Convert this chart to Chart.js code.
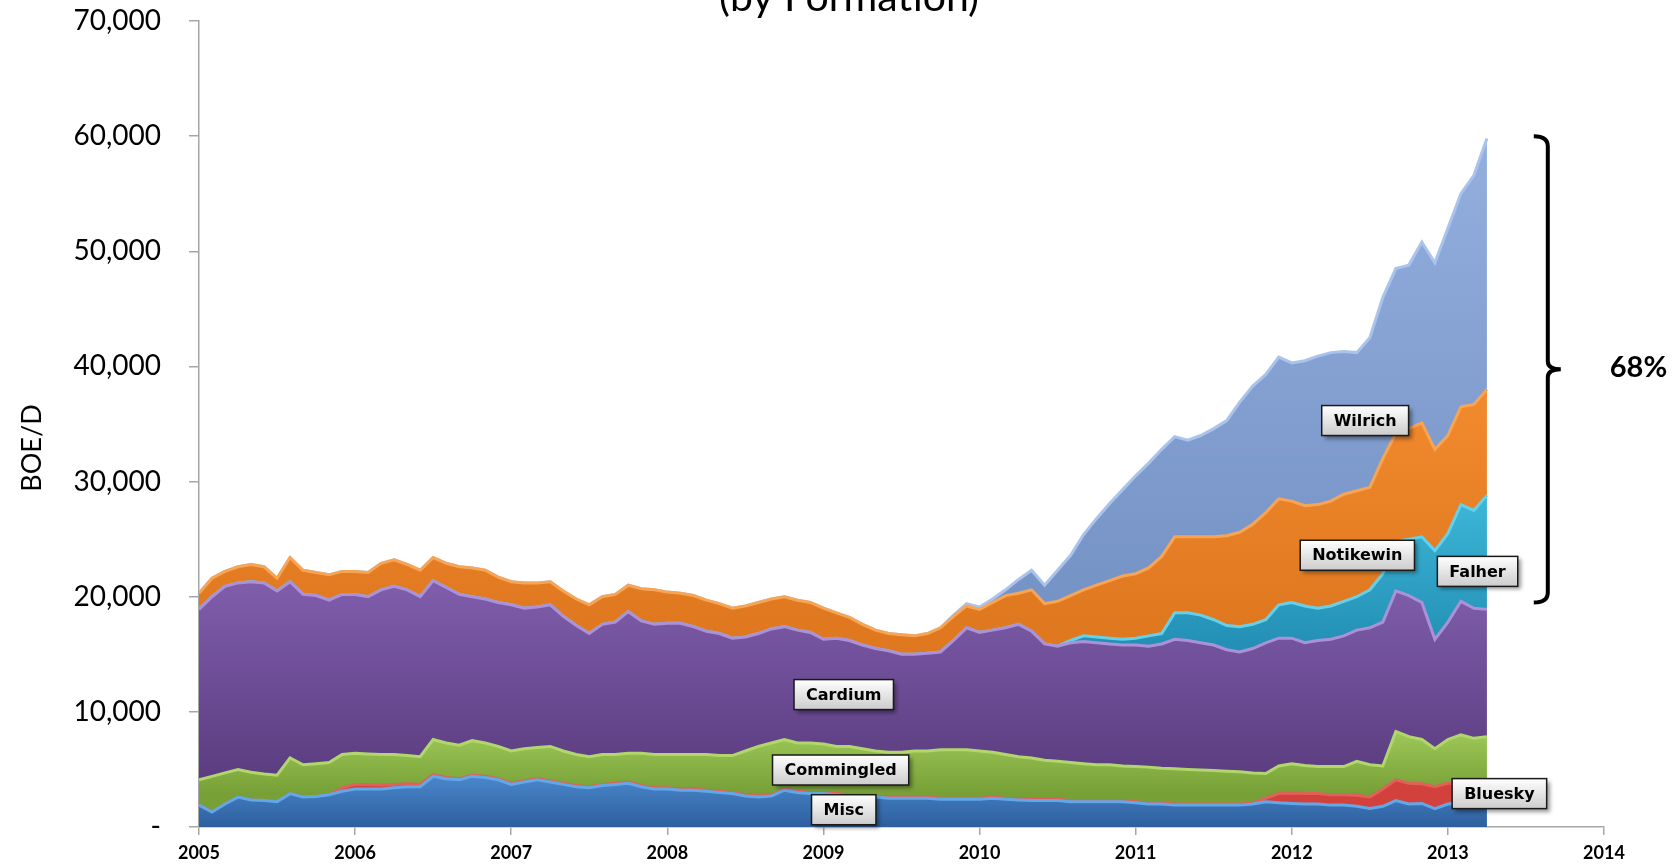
<!DOCTYPE html>
<html>
<head>
<meta charset="utf-8">
<title>Production by Formation</title>
<script src="https://cdn.jsdelivr.net/npm/chart.js@4.4.1/dist/chart.umd.min.js"></script>
<style>
  html, body { margin: 0; padding: 0; background: #fff; }
  #wrap { width: 1680px; height: 867px; position: relative; }
</style>
</head>
<body>
<div id="wrap"><canvas id="chart"></canvas></div>
<script>
// Monthly production by formation, Jan 2005 - Apr 2013 (BOE/D)
const startYear = 2005;
const yearTicks = [2005, 2006, 2007, 2008, 2009, 2010, 2011, 2012, 2013, 2014];
const valueTicks = [0, 10000, 20000, 30000, 40000, 50000, 60000, 70000];

const misc = [
  1900, 1300, 2000, 2600, 2350, 2300, 2200, 2900, 2600, 2650, 2800, 3100,
  3300, 3300, 3300, 3400, 3500, 3500, 4400, 4200, 4100, 4400, 4300, 4100,
  3700, 3900, 4100, 3900, 3700, 3500, 3400, 3600, 3700, 3800, 3500, 3300,
  3300, 3200, 3200, 3100, 3000, 2900, 2700, 2600, 2700, 3200, 3000, 2900,
  2900, 2800, 2700, 2600, 2600, 2500, 2500, 2500, 2500, 2400, 2400, 2400,
  2400, 2500, 2400, 2350, 2300, 2300, 2300, 2200, 2200, 2200, 2200, 2200,
  2100, 2000, 2000, 1900, 1900, 1900, 1900, 1900, 1900, 2000, 2200, 2100,
  2050, 2000, 2000, 1900, 1900, 1800, 1600, 1800, 2300, 2000, 2050, 1600,
  2000, 2100, 2000, 2200
];

const bluesky = [
  0, 0, 0, 0, 0, 0, 0, 0, 0, 0, 0, 300,
  400, 400, 350, 300, 250, 200, 150, 100, 100, 100, 100, 100,
  100, 100, 100, 100, 100, 100, 100, 100, 100, 100, 100, 100,
  100, 100, 100, 100, 100, 100, 100, 100, 100, 100, 100, 100,
  100, 100, 100, 100, 100, 100, 100, 100, 100, 100, 100, 100,
  100, 100, 100, 100, 100, 100, 100, 100, 100, 100, 100, 100,
  100, 100, 100, 100, 100, 100, 100, 100, 100, 100, 300, 800,
  900, 900, 900, 900, 900, 950, 1000, 1500, 1800, 1800, 1700, 1900,
  1800, 1700, 1600, 1600
];

const commingled = [
  2200, 3100, 2700, 2400, 2400, 2300, 2300, 3100, 2800, 2850, 2800, 2900,
  2700, 2650, 2650, 2600, 2450, 2400, 3050, 3000, 2900, 3000, 2900, 2800,
  2800, 2800, 2700, 3000, 2800, 2700, 2600, 2600, 2500, 2500, 2800, 2900,
  2900, 3000, 3000, 3100, 3100, 3200, 3800, 4300, 4500, 4300, 4200, 4300,
  4200, 4100, 4200, 4100, 3900, 3900, 3900, 4000, 4000, 4200, 4200, 4200,
  4100, 3900, 3800, 3650, 3600, 3400, 3300, 3300, 3200, 3100, 3100, 3000,
  3050, 3100, 3000, 3050, 3000, 2950, 2900, 2850, 2800, 2600, 2150, 2400,
  2550, 2450, 2350, 2450, 2450, 2950, 2800, 2000, 4200, 4050, 3850, 3300,
  3800, 4200, 4100, 4050
];

const cardium = [
  14800, 15600, 16200, 16200, 16550, 16600, 16000, 15300, 14800, 14600, 14100, 13900,
  13800, 13650, 14300, 14600, 14400, 13900, 13800, 13500, 13100, 12500, 12500, 12500,
  12700, 12200, 12200, 12300, 11700, 11200, 10700, 11300, 11500, 12300, 11500, 11300,
  11400, 11400, 11100, 10700, 10600, 10200, 9900, 9800, 9900, 9800, 9800, 9600,
  9100, 9400, 9200, 9000, 8900, 8800, 8500, 8400, 8500, 8500, 9500, 10600,
  10300, 10600, 11000, 11500, 11000, 10100, 10000, 10400, 10600, 10600, 10500, 10500,
  10550, 10500, 10800, 11250, 11200, 11050, 10900, 10550, 10400, 10800, 11350, 11100,
  10900, 10650, 10950, 11050, 11350, 11400, 11900, 12500, 12200, 12250, 11900, 9500,
  10200, 11600, 11300, 11050
];

const falher = [
  0, 0, 0, 0, 0, 0, 0, 0, 0, 0, 0, 0,
  0, 0, 0, 0, 0, 0, 0, 0, 0, 0, 0, 0,
  0, 0, 0, 0, 0, 0, 0, 0, 0, 0, 0, 0,
  0, 0, 0, 0, 0, 0, 0, 0, 0, 0, 0, 0,
  0, 0, 0, 0, 0, 0, 0, 0, 0, 0, 0, 0,
  0, 0, 0, 0, 0, 0, 0, 200, 500, 500, 500, 500,
  600, 900, 900, 2300, 2400, 2400, 2200, 2100, 2200, 2100, 2000, 2900,
  3100, 3200, 2800, 2900, 3000, 2900, 3300, 4200, 4300, 4900, 5700, 7700,
  7700, 8400, 8500, 9900
];

const notikewin = [
  1400, 1600, 1300, 1400, 1500, 1400, 1100, 2100, 2100, 2000, 2200, 2000,
  2000, 2100, 2300, 2300, 2200, 2300, 2000, 2100, 2400, 2500, 2500, 2200,
  2000, 2200, 2100, 2000, 2200, 2300, 2500, 2400, 2400, 2300, 2800, 3000,
  2700, 2600, 2700, 2700, 2600, 2600, 2700, 2700, 2600, 2600, 2600, 2600,
  2700, 2200, 2000, 1800, 1600, 1500, 1700, 1600, 1700, 2100, 2100, 1900,
  2000, 2400, 2800, 2700, 3600, 3500, 3900, 3900, 4000, 4500, 5000, 5500,
  5600, 5900, 6700, 6600, 6600, 6800, 7200, 7800, 8200, 8700, 9300, 9200,
  8800, 8700, 9000, 9100, 9300, 9200, 8900, 10000, 9400, 9600, 9900, 8800,
  8500, 8500, 9200, 9200
];

const wilrich = [
  0, 0, 0, 0, 0, 0, 0, 0, 0, 0, 0, 0,
  0, 0, 0, 0, 0, 0, 0, 0, 0, 0, 0, 0,
  0, 0, 0, 0, 0, 0, 0, 0, 0, 0, 0, 0,
  0, 0, 0, 0, 0, 0, 0, 0, 0, 0, 0, 0,
  0, 0, 0, 0, 0, 0, 0, 0, 0, 0, 100, 200,
  200, 300, 500, 1200, 1700, 1600, 2700, 3500, 4800, 5800, 6700, 7500,
  8500, 9100, 9300, 8700, 8400, 8800, 9400, 10000, 11300, 12000, 12000, 12300,
  12000, 12600, 12900, 12900, 12400, 12000, 13000, 14000, 14300, 14200, 15700, 16200,
  18000, 18500, 19900, 21800
];

// x position of each monthly sample, in years
const months = misc.map((_, i) => startYear + i / 12);

// Text boxes placed in data space (year, BOE/D)
const callouts = [
  { text: 'Cardium', x: 2009.13, y: 11500 },
  { text: 'Commingled', x: 2009.11, y: 4950 },
  { text: 'Misc', x: 2009.13, y: 1500 },
  { text: 'Wilrich', x: 2012.47, y: 35300 },
  { text: 'Notikewin', x: 2012.42, y: 23600 },
  { text: 'Falher', x: 2013.19, y: 22200 },
  { text: 'Bluesky', x: 2013.33, y: 2900 }
];

function toPoints(arr) {
  return arr.map((v, i) => ({ x: months[i], y: v }));
}

// vertical gradient between two value levels of the y scale
function vGradient(hi, lo, c1, c2) {
  return function (context) {
    const chart = context.chart;
    const { ctx, chartArea, scales } = chart;
    if (!chartArea || !scales.y) return c1;
    const y1 = scales.y.getPixelForValue(hi);
    const y2 = scales.y.getPixelForValue(lo);
    const g = ctx.createLinearGradient(0, y1, 0, y2);
    g.addColorStop(0, c1);
    g.addColorStop(1, c2);
    return g;
  };
}

function area(label, values, fill, border, bg) {
  return {
    label: label,
    data: toPoints(values),
    fill: fill,
    backgroundColor: bg,
    borderColor: border,
    borderWidth: 3,
    pointRadius: 0,
    tension: 0
  };
}

// Title, axis title, callouts and the 68% bracket
const decorations = {
  id: 'decorations',
  afterDatasetsDraw(chart) {
    const { ctx, scales } = chart;
    const xs = scales.x, ys = scales.y;

    ctx.save();
    ctx.font = 'bold 16px "DejaVu Sans"';
    ctx.textAlign = 'center';
    ctx.textBaseline = 'middle';
    callouts.forEach(c => {
      const cx = xs.getPixelForValue(c.x);
      const cy = ys.getPixelForValue(c.y);
      const w = ctx.measureText(c.text).width + 24;
      const h = 30;
      const left = cx - w / 2, top = cy - h / 2;
      ctx.save();
      ctx.shadowColor = 'rgba(0,0,0,0.4)';
      ctx.shadowOffsetX = 3;
      ctx.shadowOffsetY = 3;
      ctx.shadowBlur = 4;
      const g = ctx.createLinearGradient(0, top, 0, top + h);
      g.addColorStop(0, '#ffffff');
      g.addColorStop(1, '#cccccc');
      ctx.fillStyle = g;
      ctx.fillRect(left, top, w, h);
      ctx.restore();
      ctx.strokeStyle = '#1a1a1a';
      ctx.lineWidth = 1.5;
      ctx.strokeRect(left, top, w, h);
      ctx.fillStyle = '#000';
      ctx.fillText(c.text, cx, cy + 1);
    });
    ctx.restore();
  },
  afterDraw(chart) {
    const { ctx, scales } = chart;
    const xs = scales.x, ys = scales.y;
    ctx.save();

    // partially visible title line (top is cut off in the original)
    ctx.fillStyle = '#000';
    ctx.font = '41px Lato';
    ctx.textAlign = 'center';
    ctx.textBaseline = 'alphabetic';
    ctx.fillText('(by Formation)', 849, 11);

    // y axis title
    ctx.save();
    ctx.translate(32, 448);
    ctx.rotate(-Math.PI / 2);
    ctx.font = '27px Lato';
    ctx.textAlign = 'center';
    ctx.textBaseline = 'middle';
    ctx.fillText('BOE/D', 0, 0);
    ctx.restore();

    // bracket for the share of growth
    const bx = xs.getPixelForValue(2013.64);
    const yt = ys.getPixelForValue(60000);
    const yb = ys.getPixelForValue(19500);
    const ym = (yt + yb) / 2;
    ctx.strokeStyle = '#000';
    ctx.lineWidth = 4;
    ctx.lineJoin = 'round';
    ctx.beginPath();
    ctx.moveTo(bx - 14, yt);
    ctx.quadraticCurveTo(bx, yt, bx, yt + 10);
    ctx.lineTo(bx, ym - 8);
    ctx.quadraticCurveTo(bx, ym, bx + 13, ym);
    ctx.moveTo(bx + 13, ym);
    ctx.quadraticCurveTo(bx, ym, bx, ym + 8);
    ctx.lineTo(bx, yb - 10);
    ctx.quadraticCurveTo(bx, yb, bx - 14, yb);
    ctx.stroke();

    ctx.font = 'bold 29px Lato';
    ctx.textAlign = 'left';
    ctx.textBaseline = 'middle';
    ctx.fillText('68%', bx + 62, ym - 2);
    ctx.restore();
  }
};

Chart.defaults.font.family = 'Lato';
Chart.defaults.color = '#000';

new Chart(document.getElementById('chart').getContext('2d'), {
  type: 'line',
  data: {
    datasets: [
      area('Misc', misc, 'origin', '#62a8e8', vGradient(4500, 0, '#4a88cc', '#2d5f9e')),
      area('Bluesky', bluesky, '-1', '#e0605a', '#d2413c'),
      area('Commingled', commingled, '-1', '#b0d66c', vGradient(8000, 3000, '#9cc656', '#77a037')),
      area('Cardium', cardium, '-1', '#ab92d8', vGradient(21000, 4000, '#7f5dab', '#5a3c7f')),
      area('Falher', falher, '-1', '#66d0ea', vGradient(28000, 16000, '#3bb5d6', '#2490b6')),
      area('Notikewin', notikewin, '-1', '#f7a554', vGradient(38000, 18000, '#f28a2e', '#e07820')),
      area('Wilrich', wilrich, '-1', '#a9c3ec', vGradient(60000, 20000, '#93afde', '#7693c6'))
    ]
  },
  options: {
    responsive: true,
    maintainAspectRatio: false,
    animation: false,
    layout: { padding: { left: 0, right: 76, top: 21, bottom: 0 } },
    plugins: {
      legend: { display: false },
      tooltip: { enabled: false },
      title: { display: false }
    },
    scales: {
      x: {
        type: 'linear',
        min: yearTicks[0],
        max: yearTicks[yearTicks.length - 1],
        afterBuildTicks: s => { s.ticks = yearTicks.map(v => ({ value: v })); },
        ticks: {
          callback: v => String(v),
          font: { family: 'Lato', size: 18, weight: 'bold' },
          color: '#000',
          padding: 7,
          maxRotation: 0,
          autoSkip: false
        },
        grid: { display: true, drawOnChartArea: false, drawTicks: true, tickLength: 8, color: '#a6a6a6', lineWidth: 1.5 },
        border: { display: true, color: '#a6a6a6', width: 1.5 },
        afterFit: s => { s.height = 40; }
      },
      y: {
        stacked: true,
        min: 0,
        max: 70000,
        afterBuildTicks: s => { s.ticks = valueTicks.map(v => ({ value: v })); },
        ticks: {
          callback: v => v === 0 ? '-' : v.toLocaleString('en-US'),
          font: { family: 'Lato', size: 28 },
          color: '#000',
          padding: 28
        },
        grid: { display: true, drawOnChartArea: false, drawTicks: true, tickLength: 10, color: '#a6a6a6', lineWidth: 1.5 },
        border: { display: true, color: '#a6a6a6', width: 1.5 },
        // keep the tick padding from pushing the plot area in
        afterFit: s => { s.width = 199; s.paddingTop = 10; s.paddingBottom = 10; }
      }
    }
  },
  plugins: [decorations]
});
</script>
</body>
</html>
